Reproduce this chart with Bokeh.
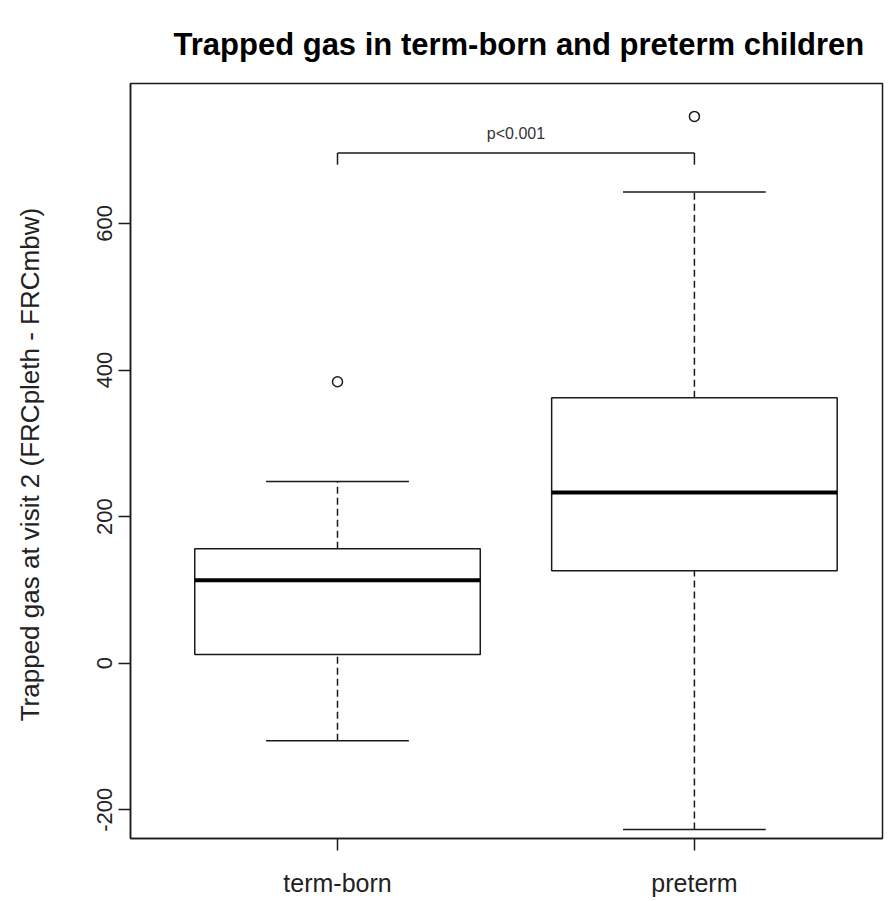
from bokeh.plotting import figure
from bokeh.models import FixedTicker, Title
from bokeh.core.properties import value
from bokeh.embed import file_html
from bokeh.resources import INLINE

# ---- data ----
categories = ["term-born", "preterm"]
lower_whisker = [-106, -227]
q1 = [12, 126]
median = [113, 233]
q3 = [156, 362]
upper_whisker = [248, 643]
outlier_group = ["term-born", "preterm"]
outlier_value = [384, 746]
y_ticks = [-200, 0, 200, 400, 600]
p_label = "p<0.001"
bracket_y = 696
bracket_drop = 16
p_label_y = 722

title_text = "Trapped gas in term-born and preterm children"
y_label = "Trapped gas at visit 2  (FRCpleth - FRCmbw)"

FONT = "Liberation Sans"
INK = "#1a1a1a"

x = [i + 1 for i in range(len(categories))]
pos = {c: i + 1 for i, c in enumerate(categories)}
box_half = 0.4
cap_half = 0.2

p = figure(width=888, height=901, output_backend="svg", toolbar_location=None,
           x_range=(0.42, 2.527), y_range=(-239.2, 790.9),
           min_border_left=130, min_border_right=6,
           min_border_top=83, min_border_bottom=63)
p.grid.visible = False
p.background_fill_color = "white"
p.border_fill_color = "white"
p.outline_line_color = INK
p.outline_line_width = 1.5
p.outline_line_alpha = 1.0

t = Title(text=title_text, align="left", offset=43, vertical_align="top",
          text_font=FONT, text_font_size="31px", text_font_style="bold",
          text_color="black", standoff=40)
p.add_layout(t, "above")

# whiskers (dashed)
p.segment(x0=x, y0=q3, x1=x, y1=upper_whisker, line_color=INK, line_width=1.5, line_dash="7 4")
p.segment(x0=x, y0=lower_whisker, x1=x, y1=q1, line_color=INK, line_width=1.5, line_dash="7 4")
# caps
p.segment(x0=[v - cap_half for v in x], y0=upper_whisker, x1=[v + cap_half for v in x], y1=upper_whisker,
          line_color=INK, line_width=1.5)
p.segment(x0=[v - cap_half for v in x], y0=lower_whisker, x1=[v + cap_half for v in x], y1=lower_whisker,
          line_color=INK, line_width=1.5)
# boxes
p.quad(left=[v - box_half for v in x], right=[v + box_half for v in x], bottom=q1, top=q3,
       fill_color="white", line_color=INK, line_width=1.5)
# medians
p.segment(x0=[v - box_half for v in x], y0=median, x1=[v + box_half for v in x], y1=median,
          line_color="black", line_width=4)
# outliers
p.scatter(x=[pos[g] for g in outlier_group], y=outlier_value, marker="circle", size=10,
          fill_color="white", line_color=INK, line_width=1.5)

# significance bracket
p.segment(x0=[x[0]], y0=[bracket_y], x1=[x[1]], y1=[bracket_y], line_color=INK, line_width=1.5)
p.segment(x0=x, y0=[bracket_y, bracket_y], x1=x, y1=[bracket_y - bracket_drop] * 2,
          line_color=INK, line_width=1.5)
p.text(x=[(x[0] + x[1]) / 2], y=[p_label_y], text=[p_label], text_align="center",
       text_baseline="middle", text_font=value(FONT), text_font_size="16px", text_color="#333333")

# axes
p.yaxis.ticker = FixedTicker(ticks=y_ticks)
p.yaxis.major_label_overrides = {v: str(v) for v in y_ticks}
p.yaxis.major_label_orientation = "vertical"
p.yaxis.axis_label = y_label
p.yaxis.axis_label_text_font = FONT
p.yaxis.axis_label_text_font_size = "26px"
p.yaxis.axis_label_text_font_style = "normal"
p.yaxis.axis_label_text_color = "#222222"
p.yaxis.axis_label_standoff = 50

p.xaxis.ticker = FixedTicker(ticks=x)
p.xaxis.major_label_overrides = {v: c for v, c in zip(x, categories)}

for ax in (p.xaxis, p.yaxis):
    ax.major_tick_out = 12
    ax.major_tick_in = 0
    ax.minor_tick_out = 0
    ax.minor_tick_in = 0
    ax.major_tick_line_color = INK
    ax.major_tick_line_width = 1.5
    ax.axis_line_color = INK
    ax.axis_line_width = 1.5
    ax.major_label_text_font = FONT
    ax.major_label_text_color = "#222222"
    ax.major_label_standoff = 6
p.yaxis.major_label_text_font_size = "22px"
p.xaxis.major_label_text_font_size = "25px"
p.xaxis.major_label_standoff = 18

open("out.html", "w").write(file_html(p, INLINE))
